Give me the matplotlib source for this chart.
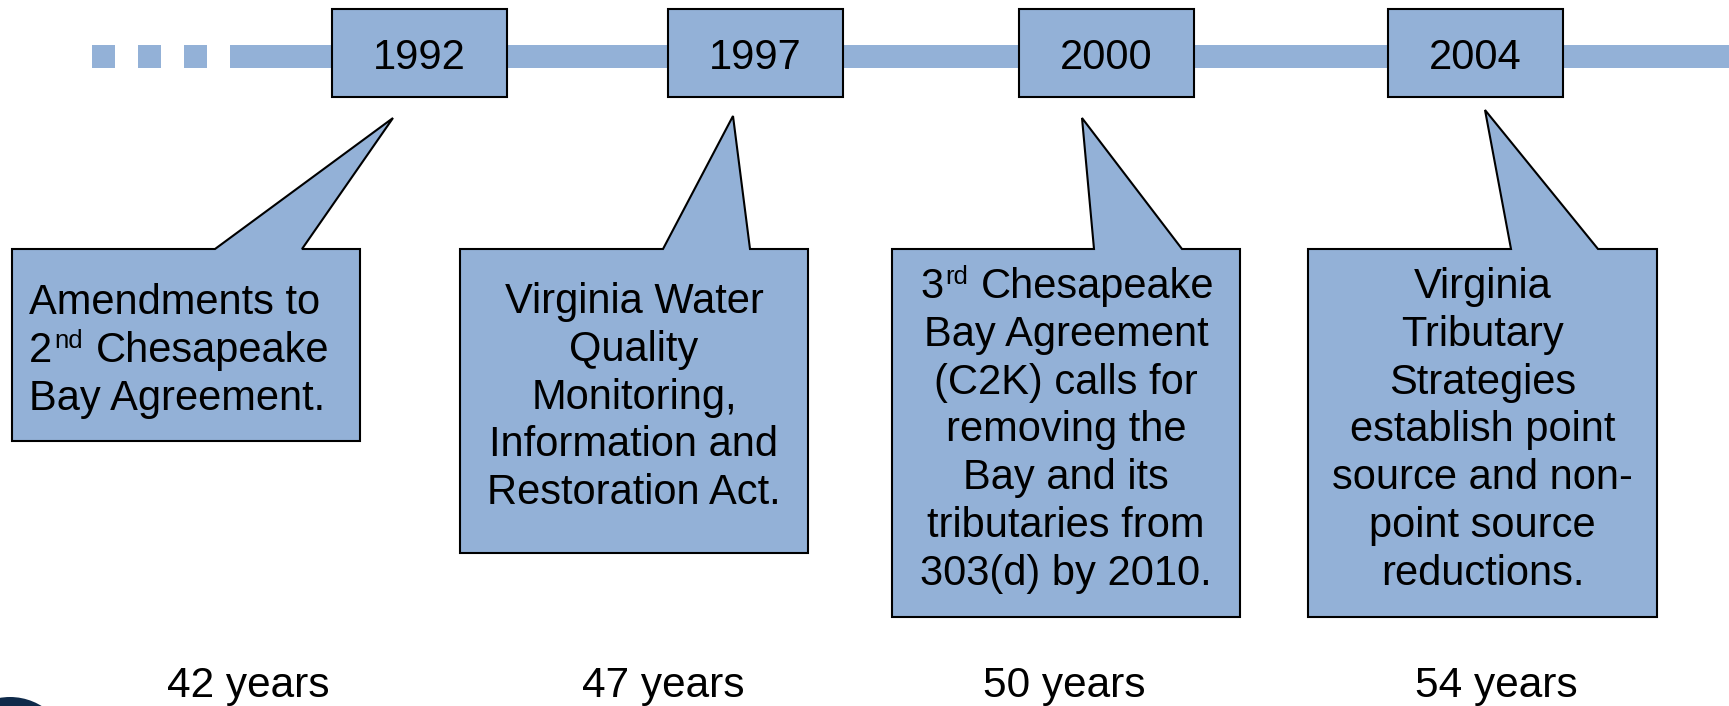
import re
import matplotlib
matplotlib.use('Agg')
import matplotlib.pyplot as plt
from matplotlib.patches import Rectangle, Polygon, Circle

plt.rcParams['font.family'] = ['Liberation Sans', 'DejaVu Sans']

# data
years = ['1992', '1997', '2000', '2004']
events = [
    ['Amendments to', '2^{nd} Chesapeake', 'Bay Agreement.'],
    ['Virginia Water', 'Quality', 'Monitoring,', 'Information and', 'Restoration Act.'],
    ['3^{rd} Chesapeake', 'Bay Agreement', '(C2K) calls for', 'removing the',
     'Bay and its', 'tributaries from', '303(d) by 2010.'],
    ['Virginia', 'Tributary', 'Strategies', 'establish point', 'source and non-',
     'point source', 'reductions.'],
]
ages = [42, 47, 50, 54]

# layout (pixels, y down)
W, H = 1729, 706
blue = '#93B1D7'
year_left = [332, 668, 1019, 1388]
year_w = 175
year_top, year_bot = 9, 97
line_top, line_bot = 45, 68
dash_x = [92, 138, 184]
dash_w = 23

box_left = [12, 460, 892, 1308]
box_right = [360, 808, 1240, 1657]
box_top = 249
box_bot = [441, 553, 617, 617]
ptr_a = [215, 663, 1094, 1511]
ptr_b = [302, 750, 1182, 1598]
tips = [(393, 118), (733, 116), (1082, 118), (1485, 110)]
first_base = [314, 313, 298, 298]
line_step = 47.8
age_x = [248, 663, 1064, 1496]
fs = 30
sup_fs = 18.5
sup_rise = 13.5

fig = plt.figure(figsize=(W / 100, H / 100), dpi=100)
ax = fig.add_axes([0, 0, 1, 1])
ax.set_xlim(0, W)
ax.set_ylim(H, 0)
ax.axis('off')
rend = fig.canvas.get_renderer()


def draw_line(x, y, s, ha):
    if '^{' not in s:
        ax.text(x, y, s, ha=ha, va='baseline', fontsize=fs, zorder=3)
        return
    parts = re.split(r'\^\{(.*?)\}', s)
    objs = []
    for k, p in enumerate(parts):
        gap = 0
        if p.startswith(' '):
            gap = 0.278 * fs * 100 / 72
            p = p.lstrip()
        if k % 2:
            t = ax.text(0, y - sup_rise, p, ha='left', va='baseline', fontsize=sup_fs, zorder=3)
            gap = 1
        else:
            t = ax.text(0, y, p, ha='left', va='baseline', fontsize=fs, zorder=3)
        objs.append((t, gap, t.get_window_extent(rend).width))
    total = sum(g + w for _, g, w in objs)
    cx = x - total / 2 if ha == 'center' else x
    for t, g, w in objs:
        cx += g
        t.set_x(cx)
        cx += w + 1


# timeline bar
for x in dash_x:
    ax.add_patch(Rectangle((x, line_top), dash_w, line_bot - line_top, color=blue, lw=0, zorder=1))
ax.add_patch(Rectangle((dash_x[-1] + 2 * dash_w, line_top), W, line_bot - line_top,
                       color=blue, lw=0, zorder=1))

# year boxes
for i, yr in enumerate(years):
    ax.add_patch(Rectangle((year_left[i], year_top), year_w, year_bot - year_top,
                           facecolor=blue, edgecolor='black', lw=1.5, zorder=2))
    ax.text(year_left[i] + year_w / 2, 69, yr, ha='center', va='baseline',
            fontsize=fs, zorder=3)

# callouts
for i, lines in enumerate(events):
    l, r, b = box_left[i], box_right[i], box_bot[i]
    pts = [(l, box_top), (ptr_a[i], box_top), tips[i], (ptr_b[i], box_top),
           (r, box_top), (r, b), (l, b)]
    ax.add_patch(Polygon(pts, closed=True, facecolor=blue, edgecolor='black',
                         lw=1.5, joinstyle='miter', zorder=2))
    if i == 0:
        tx, ha = l + 17, 'left'
    else:
        tx, ha = (l + r) / 2, 'center'
    for k, s in enumerate(lines):
        draw_line(tx, first_base[i] + k * line_step, s, ha)

# years elapsed
for i, a in enumerate(ages):
    ax.text(age_x[i], 697, f'{a} years', ha='center', va='baseline', fontsize=30.5)

# logo corner
ax.add_patch(Circle((10, 757), 60, color='#0f2a4a', lw=0, zorder=1))

fig.savefig('out.png', dpi=100)
